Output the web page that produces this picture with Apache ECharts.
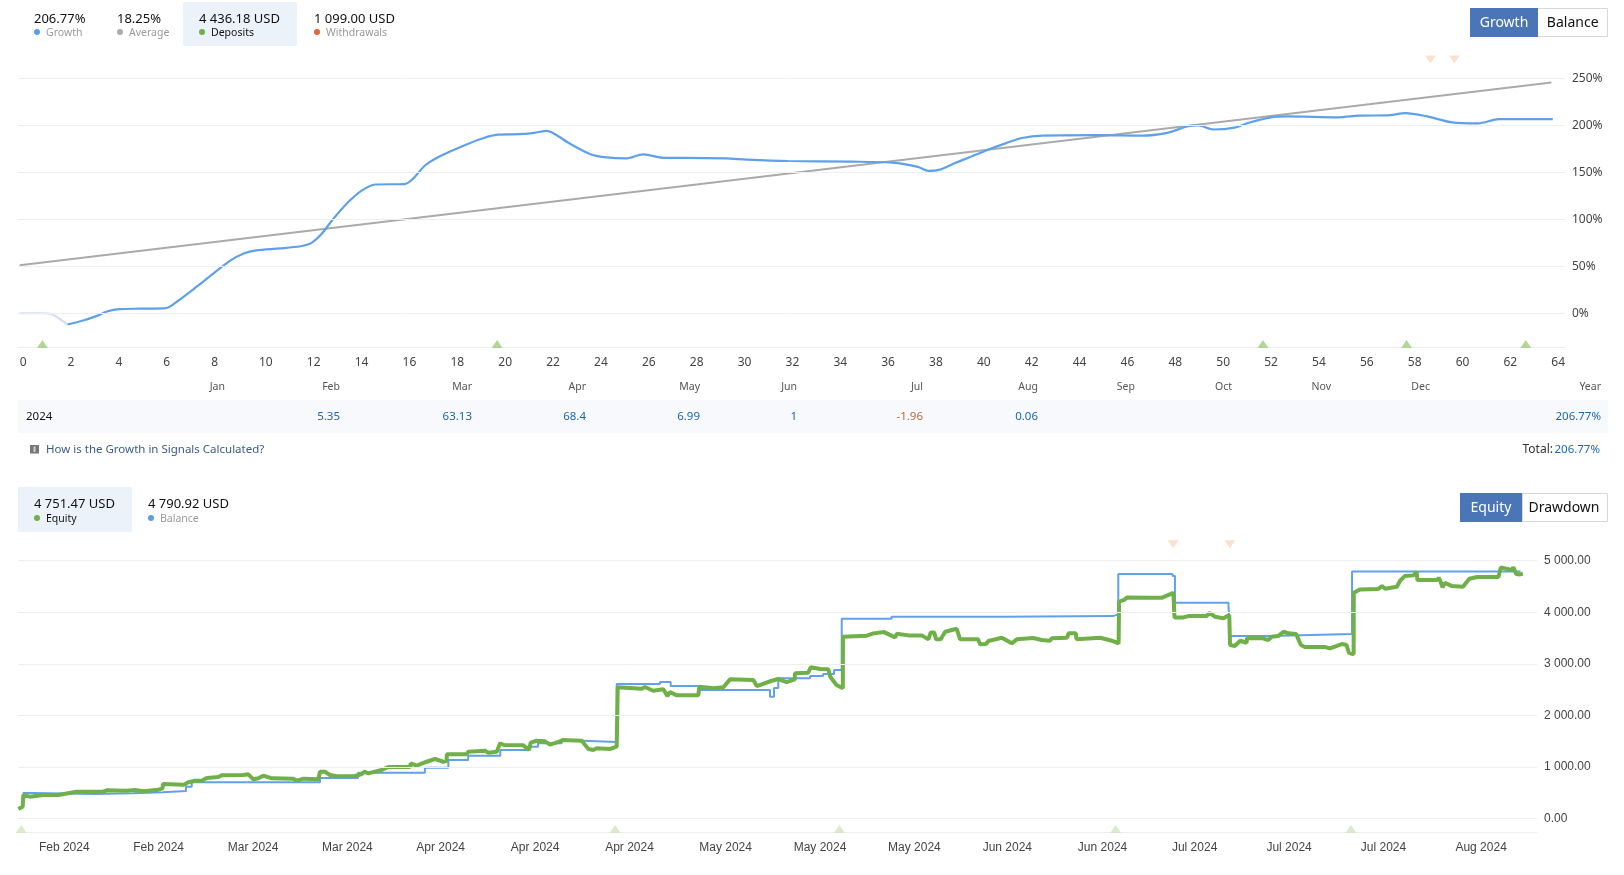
<!DOCTYPE html>
<html><head><meta charset="utf-8">
<style>html,body{margin:0;padding:0;background:#fff}#c{width:1624px;height:875px}</style>
<script src="https://cdn.jsdelivr.net/npm/echarts@6/dist/echarts.min.js"></script>
</head><body><div id="c"></div>
<script>
// ---------- growth chart data ----------
const growthTicks = [0,2,4,6,8,10,12,14,16,18,20,22,24,26,28,30,32,34,36,38,40,42,44,46,48,50,52,54,56,58,60,62,64];
const growthYTicks = [0,50,100,150,200,250];
const growthStart = [[0,0],[0.91,0],[1.34,-1],[1.64,-5.5],[2,-12]];
const growth = [[2,-12],[2.65,-7.7],[3.17,-3.3],[3.68,2.2],[4.16,4.4],[5.03,4.9],[6.11,5.5],[6.55,12],[7.41,28.5],[8.06,41.7],[8.8,56],[9.36,63.6],[9.88,67],[10.88,69],[11.74,71.3],[12.18,74.6],[12.62,84.5],[13.05,98.7],[13.7,117.5],[14.26,130],[14.86,137],[16.08,137.5],[16.39,142],[16.95,157.5],[17.6,167.5],[18.47,177.5],[19.33,186],[19.98,190],[20.85,190.5],[21.5,192],[22.02,194],[22.37,190.5],[23.02,180],[23.88,169],[24.53,165.8],[25.32,164.7],[26.05,169],[26.92,165.3],[27.78,165.3],[29.52,164.7],[30.38,163.5],[32.11,162],[34.72,161.3],[36.45,160.2],[37.53,155.8],[37.97,151.5],[38.4,152.5],[39.06,159.5],[40.36,173],[41.22,181],[41.88,186.5],[42.74,189],[45.12,189.5],[46.86,189],[47.95,192],[48.81,199],[49.24,199.8],[49.89,195.5],[50.76,197.5],[51.4,203],[52.28,208.5],[52.93,209.5],[55.1,208.5],[55.96,210.2],[57.26,210.8],[57.9,213],[58.77,209.7],[59.86,203],[60.94,202],[61.81,206.5],[64.06,206.5]];
const average = [[0,51],[64,245.5]];
const depositMarks = [[0.95,-32.7],[19.95,-32.7],[51.95,-32.7],[57.95,-32.7],[62.93,-32.7]];
const withdrawMarks = [[58.95,270],[59.95,270]];

// ---------- equity chart data ----------
const equityDateTicks = [5.88,17.87,29.87,41.85,53.7,65.7,77.7,89.9,101.9,113.9,125.7,137.8,149.5,161.5,173.5,185.9];
const equityDateLabels = ['Feb 2024','Feb 2024','Mar 2024','Mar 2024','Apr 2024','Apr 2024','Apr 2024','May 2024','May 2024','May 2024','Jun 2024','Jun 2024','Jul 2024','Jul 2024','Jul 2024','Aug 2024'];
const equityYTicks = [0,1000,2000,3000,4000,5000];
const balance = [[0.6,494],[1.87,475],[9.78,489],[14.6,510],[18.4,533],[21.35,617],[22.07,702],[38.37,785],[43.2,888],[51.7,985],[54.68,1134],[57.2,1218],[61.28,1328],[64.7,1392],[66.07,1458],[69.08,1508],[71.8,1483],[76.07,2608],[81.57,2647],[82.93,2569],[86.66,2492],[95.55,2362],[96.06,2530],[96.6,2718],[100.64,2763],[102.3,2802],[103.69,2879],[104.66,3874],[111,3913],[125.2,3926],[139.1,3959],[139.8,4741],[146.7,4702],[147,4184],[153.8,4140],[154,3539],[159.1,3577],[169.5,4793],[190.9,4791]];
const equity = [[0.04,184],[0.6,229],[0.68,456],[1.52,423],[3.2,456],[5.1,456],[5.34,494],[7.46,520],[10.84,520],[11.27,547],[13.81,539],[14.87,553],[15.93,527],[17.83,558],[18.38,586],[18.4,669],[21.09,656],[21.64,702],[22.49,733],[23.34,733],[23.98,785],[25.45,805],[25.88,838],[28.63,844],[29.26,857],[29.9,760],[30.54,779],[31.17,830],[32.24,779],[34.98,772],[35.49,733],[36.25,772],[38.16,760],[38.37,907],[39,907],[39.64,844],[40.5,818],[42.82,824],[43.67,863],[44,907],[44.5,876],[46.2,940],[47.05,999],[49.8,999],[49.9,1070],[50.66,1024],[51.93,1101],[52.99,1154],[54.04,1101],[54.47,1115],[54.48,1245],[57,1245],[57.2,1295],[59.34,1315],[59.76,1276],[60.83,1295],[61.25,1458],[61.75,1425],[64.2,1419],[64.93,1328],[65.14,1470],[65.9,1508],[66.96,1497],[67.6,1431],[68.87,1497],[69.2,1522],[71.62,1508],[72.47,1348],[73.1,1328],[73.53,1361],[75.2,1348],[76.07,1392],[76.2,2544],[79.25,2517],[79.66,2550],[80.7,2478],[82,2505],[82.5,2375],[82.84,2453],[83.7,2389],[86.44,2389],[86.57,2556],[88.35,2525],[89.62,2544],[90.47,2699],[93.43,2686],[93.87,2569],[95.77,2672],[96.6,2705],[97.66,2647],[98.7,2699],[98.72,2815],[100.4,2827],[100.72,2932],[101.9,2899],[102.96,2893],[103.2,2750],[104,2589],[104.8,2525],[104.82,3525],[107.84,3545],[108.7,3591],[110.04,3616],[111.44,3513],[111.66,3583],[113.13,3552],[114.83,3552],[115.67,3475],[115.97,3610],[116.4,3610],[116.65,3475],[117.24,3475],[117.8,3622],[119.27,3680],[119.7,3475],[122,3475],[122.24,3378],[123,3384],[123.3,3442],[125,3506],[126.27,3397],[126.9,3475],[129,3500],[130.08,3461],[131.1,3448],[131.36,3494],[133.27,3506],[133.5,3591],[134.4,3591],[134.5,3475],[137.5,3506],[138.97,3448],[139.84,3397],[139.9,4204],[140.66,4250],[140.9,4289],[143.8,4281],[145.3,4281],[146.8,4378],[146.94,3901],[148.07,3901],[148.7,3926],[151,3926],[151.4,3990],[152.1,3913],[153.16,3882],[153.9,3946],[154,3364],[154.6,3345],[155.3,3448],[156.1,3409],[156.15,3494],[158.2,3494],[158.85,3461],[159.3,3525],[160.1,3539],[160.8,3622],[161.4,3591],[162.4,3577],[163,3364],[163.5,3325],[166.1,3325],[166.7,3300],[168.2,3384],[168.8,3364],[169.1,3215],[169.7,3184],[169.72,4378],[170.5,4444],[172.8,4450],[173.3,4508],[173.7,4456],[175.2,4495],[175.6,4611],[176.2,4702],[177.3,4716],[177.7,4785],[177.8,4625],[180.3,4625],[180.5,4669],[180.7,4611],[181,4483],[181.3,4572],[182.2,4508],[183.6,4495],[184.4,4650],[185.4,4683],[188.1,4683],[188.4,4871],[189.1,4844],[189.8,4819],[190,4871],[190.35,4741],[190.85,4735],[191.2,4751]];
const eqDepositMarks = [[0.4,-204],[75.87,-204],[104.37,-204],[139.47,-204],[169.37,-204]];
const eqWithdrawMarks = [[146.77,5318],[153.97,5318]];

// ---------- text content ----------
const topStats = [['206.77%','Growth','#5b9ee9'],['18.25%','Average','#aaaaaa'],['4 436.18 USD','Deposits','#6fb048'],['1 099.00 USD','Withdrawals','#e0653a']];
const lowStats = [['4 751.47 USD','Equity','#6fb048'],['4 790.92 USD','Balance','#5b9ee9']];
const months = ['Jan','Feb','Mar','Apr','May','Jun','Jul','Aug','Sep','Oct','Nov','Dec','Year'];
const monthlyValues = ['', '5.35','63.13','68.4','6.99','1','-1.96','0.06','','','','','206.77%'];

// ---------- layout ----------
const FONT = '"Noto Sans", sans-serif';
const topStatX = [34,117,199,314];
const lowStatX = [34,148];
const monthRight = [225,340,472,586,700,797,923,1038,1135,1232,1331,1430,1601];
const g = [];
const rect = (x,y,w,h,fill,stroke,r) => g.push({type:'rect',silent:true,shape:{x,y,width:w,height:h,r:r||0},style:{fill,stroke:stroke||null,lineWidth:stroke?1:0}});
const txt = (t,x,y,size,fill,align) => g.push({type:'text',silent:true,x,y,style:{text:t,fill,font:size+'px '+FONT,textAlign:align||'left',textVerticalAlign:'middle'}});
const dot = (x,y,fill) => g.push({type:'circle',silent:true,shape:{cx:x,cy:y,r:3},style:{fill}});

rect(183,2,114,44,'#ebf2fa',null,2);
topStats.forEach((s,i)=>{
  const x=topStatX[i];
  txt(s[0],x,19,13,'#111');
  dot(x+3,32,s[2]);
  txt(s[1],x+12,33,10.5,i===2?'#111':'#999');
});
rect(18,487,114,45,'#ebf2fa',null,2);
lowStats.forEach((s,i)=>{
  const x=lowStatX[i];
  txt(s[0],x,504,13,'#111');
  dot(x+3,518,s[2]);
  txt(s[1],x+12,519,10.5,i===0?'#111':'#999');
});
// buttons
rect(1537.5,8.5,70,28,'#fff','#d8d8d8');
rect(1470,8,68,29,'#4a76b8');
txt('Growth',1504,23,14,'#fff','center');
txt('Balance',1572.7,23,14,'#111','center');
rect(1522.5,493.5,85,28,'#fff','#d8d8d8');
rect(1460,493,62,29,'#4a76b8');
txt('Equity',1491,508.5,14,'#fff','center');
txt('Drawdown',1564,508.5,14,'#111','center');
// table
rect(18,400,1590,33,'#f8f9fc');
months.forEach((m,i)=>{
  txt(m,monthRight[i],387.5,10.5,'#555','right');
  if(monthlyValues[i]) txt(monthlyValues[i],monthRight[i],417,11.5,monthlyValues[i][0]==='-'?'#b8693a':'#1b66b0','right');
});
txt('2024',26,417,11.5,'#111');
rect(30,445,9,8.5,'#777');
rect(33.5,446.5,2,5.5,'#cccccc');
txt('How is the Growth in Signals Calculated?',46,450,11.5,'#3b5a8c');
txt('206.77%',1600,450,11.5,'#1b66b0','right');
txt('Total:',1553,450,12,'#333','right');

const gridLines = (vals)=>({silent:true,symbol:'none',animation:false,label:{show:false},lineStyle:{color:'#eeeeee',width:1,type:'solid'},data:vals.map(v=>({yAxis:v}))});
const marks = (name,data,xi,color,rot,size)=>({name,type:'scatter',xAxisIndex:xi,yAxisIndex:xi,data,symbol:'triangle',symbolSize:size,symbolRotate:rot,itemStyle:{color},silent:true,z:1,clip:false});
const lineS = (name,data,xi,color,width,extra)=>Object.assign({name,type:'line',xAxisIndex:xi,yAxisIndex:xi,data,showSymbol:false,symbol:'none',lineStyle:{color,width},silent:true},extra||{});

const option = {
  animation:false,
  grid:[{left:18,right:59,top:31.3,height:315.7},{left:18,right:87,top:529.8,height:302.5}],
  xAxis:[
    {type:'value',gridIndex:0,min:-0.07,max:64.57,splitLine:{show:false},axisTick:{show:false},
     axisLine:{show:true,onZero:false,lineStyle:{color:'#eeeeee'}},
     axisLabel:{customValues:growthTicks,margin:10,align:'left',color:'#444',fontFamily:FONT,fontSize:12}},
    {type:'value',gridIndex:1,min:0,max:193,splitLine:{show:false},axisTick:{show:false},
     axisLine:{show:true,onZero:false,lineStyle:{color:'#eeeeee'}},
     axisLabel:{customValues:equityDateTicks,margin:9,color:'#444',fontFamily:'"Liberation Sans",Arial,sans-serif',fontSize:12,
       formatter:(v)=>equityDateLabels[equityDateTicks.indexOf(v)]||''}}
  ],
  yAxis:[
    {type:'value',gridIndex:0,position:'right',min:-35.9,max:300,splitLine:{show:false},axisLine:{show:false},axisTick:{show:false},
     axisLabel:{customValues:growthYTicks,margin:7,padding:[0,0,4,0],color:'#444',fontFamily:FONT,fontSize:12,formatter:'{value}%'}},
    {type:'value',gridIndex:1,position:'right',min:-268,max:5600,splitLine:{show:false},axisLine:{show:false},axisTick:{show:false},
     axisLabel:{customValues:equityYTicks,margin:7,padding:[0,0,3,0],color:'#444',fontFamily:'"Liberation Sans",Arial,sans-serif',fontSize:12,
       formatter:(v)=>Number(v).toFixed(2).replace(/\B(?=(\d{3})+(?!\d))(?=.*\.)/g,' ')}}
  ],
  series:[
    lineS('Average',average,0,'#aaaaaa',2,{z:3,markLine:gridLines(growthYTicks)}),
    lineS('GrowthStart',growthStart,0,'#cfe0f5',2.2,{smooth:0.3,z:3}),
    lineS('Growth',growth,0,'#5fa0ea',2.2,{smooth:0.3,z:4}),
    marks('Deposits',depositMarks,0,'#9ccc7e',0,[11,8]),
    marks('Withdrawals',withdrawMarks,0,'#fbd9c4',180,[11,8]),
    lineS('Balance',balance,1,'#62a0ea',2,{step:'end',z:3,markLine:gridLines(equityYTicks)}),
    lineS('Equity',equity,1,'#6fb048',4,{z:4}),
    marks('EqDeposits',eqDepositMarks,1,'#cfe6c0',0,[11,8]),
    marks('EqWithdrawals',eqWithdrawMarks,1,'#fbd9c4',180,[11,8])
  ],
  graphic:{elements:g}
};
echarts.init(document.getElementById('c'),null,{renderer:'canvas'}).setOption(option);
</script></body></html>
